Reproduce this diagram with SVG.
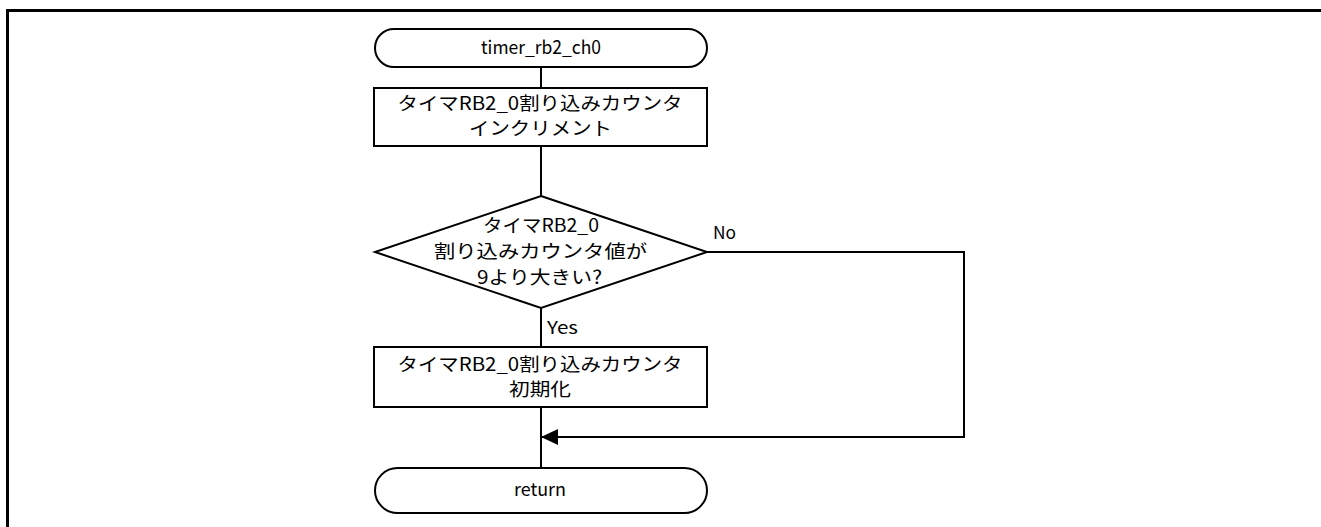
<svg xmlns="http://www.w3.org/2000/svg" width="1321" height="527" viewBox="0 0 1321 527">
<style>
.shape{fill:#fff;stroke:#000;stroke-width:2}
.line{fill:none;stroke:#000;stroke-width:2}
.t{font-family:"Noto Sans CJK JP","Noto Sans",sans-serif;font-size:18.5px;fill:#000;text-anchor:middle}
.l{font-family:"Noto Sans CJK JP","Noto Sans",sans-serif;font-size:17px;fill:#000}
</style>
<defs>
<marker id="arr" markerWidth="17" markerHeight="16" refX="17" refY="8" orient="auto" markerUnits="userSpaceOnUse">
<path d="M0,0 L17,8 L0,16 Z" fill="#000"/>
</marker>
</defs>
<rect width="1321" height="527" fill="#fff"/>
<path d="M7.5,527 V10.5 H1321" fill="none" stroke="#000" stroke-width="3"/>
<g id="connectors">
<line class="line" x1="541" y1="67" x2="541" y2="88"/>
<line class="line" x1="541" y1="146" x2="541" y2="196"/>
<line class="line" x1="541" y1="308" x2="541" y2="347"/>
<line class="line" x1="541" y1="407" x2="541" y2="468"/>
<path class="line" d="M707,252 H964 V437 H541" marker-end="url(#arr)"/>
<text class="l" x="547" y="334" textLength="31" lengthAdjust="spacingAndGlyphs">Yes</text>
<text class="l" x="713" y="239" textLength="23" lengthAdjust="spacingAndGlyphs">No</text>
</g>
<g id="start">
<rect class="shape" x="375" y="29" width="332" height="38" rx="19"/>
<text class="t" x="541" y="54" font-size="17" textLength="120" lengthAdjust="spacingAndGlyphs">timer_rb2_ch0</text>
</g>
<g id="increment">
<rect class="shape" x="374" y="88" width="333" height="58"/>
<text class="t" x="540" y="110" textLength="285" lengthAdjust="spacingAndGlyphs">タイマRB2_0割り込みカウンタ</text>
<text class="t" x="540.5" y="135" textLength="143" lengthAdjust="spacingAndGlyphs">インクリメント</text>
</g>
<g id="decision">
<polygon class="shape" points="541,196 707,252 541,308 375,252"/>
<text class="t" x="541" y="232" textLength="116" lengthAdjust="spacingAndGlyphs">タイマRB2_0</text>
<text class="t" x="540.5" y="258" textLength="213" lengthAdjust="spacingAndGlyphs">割り込みカウンタ値が</text>
<text class="t" x="539.5" y="284" textLength="125" lengthAdjust="spacingAndGlyphs">9より大きい?</text>
</g>
<g id="reset">
<rect class="shape" x="374" y="347" width="333" height="60"/>
<text class="t" x="540" y="371" textLength="285" lengthAdjust="spacingAndGlyphs">タイマRB2_0割り込みカウンタ</text>
<text class="t" x="540" y="396" textLength="62" lengthAdjust="spacingAndGlyphs">初期化</text>
</g>
<g id="return">
<rect class="shape" x="375" y="468" width="332" height="45" rx="22.5"/>
<text class="t" x="540" y="496" font-size="17" textLength="52" lengthAdjust="spacingAndGlyphs">return</text>
</g>
</svg>
